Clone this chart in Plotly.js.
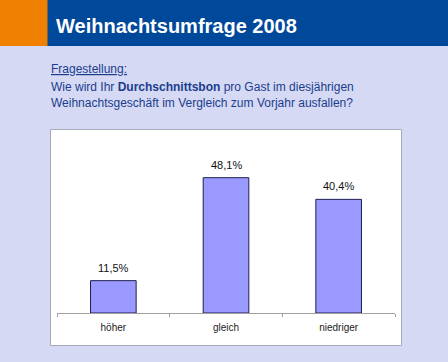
<!DOCTYPE html>
<html><head><meta charset="utf-8">
<script src="https://cdn.plot.ly/plotly-3.0.1.min.js"></script>
<style>html,body{margin:0;padding:0;background:#D5D9F3;}#chart{width:448px;height:362px;}</style>
</head><body><div id="chart"></div>
<script>
const categories = ["höher", "gleich", "niedriger"];
const values = [11.5, 48.1, 40.4];
const headerTitle = "Weihnachtsumfrage 2008";
const questionLabel = "Fragestellung:";
const questionLine1 = "Wie wird Ihr <b>Durchschnittsbon</b> pro Gast im diesjährigen";
const questionLine2 = "Weihnachtsgeschäft im Vergleich zum Vorjahr ausfallen?";

const W = 448, H = 362;
const L = 57, R = 53, T = 140, B = 49;
const pw = W - L - R, ph = H - T - B;
const px = v => (v - L) / pw;
const py = v => (H - B - v) / ph;

const font = "Arial, 'Liberation Sans', sans-serif";
const qColor = "#1B3D8E";

const trace = {
  type: "bar", x: categories, y: values,
  marker: {color: "#9999FF", line: {color: "#1F1F50", width: 1}},
  hoverinfo: "skip"
};

const annotations = categories.map((c, i) => ({
  x: c, y: values[i], xref: "x", yref: "y",
  text: values[i].toFixed(1).replace(".", ",") + "%",
  showarrow: false, yanchor: "bottom", yshift: 5,
  font: {family: font, size: 11, color: "#111"}
}));

annotations.push(
  {xref: "paper", yref: "paper", x: px(54), y: py(26), xanchor: "left", yanchor: "middle",
   text: "<b>" + headerTitle + "</b>", showarrow: false,
   font: {family: font, size: 20, color: "#FFFFFF"}},
  {xref: "paper", yref: "paper", x: px(49), y: py(69), xanchor: "left", yanchor: "middle",
   text: "<span style=\"text-decoration:underline\">" + questionLabel + "</span>", showarrow: false,
   font: {family: font, size: 12, color: qColor}},
  {xref: "paper", yref: "paper", x: px(49), y: py(86.5), xanchor: "left", yanchor: "middle",
   text: questionLine1, showarrow: false,
   font: {family: font, size: 12, color: qColor}},
  {xref: "paper", yref: "paper", x: px(49), y: py(103), xanchor: "left", yanchor: "middle",
   text: questionLine2, showarrow: false,
   font: {family: font, size: 12, color: qColor}}
);

const shapes = [
  {type: "rect", xref: "paper", yref: "paper", x0: px(0), x1: px(48), y0: py(0), y1: py(46),
   fillcolor: "#F08000", line: {width: 0}, layer: "below"},
  {type: "rect", xref: "paper", yref: "paper", x0: px(47.5), x1: px(448), y0: py(0), y1: py(46),
   fillcolor: "#00489A", line: {width: 0}, layer: "below"},
  {type: "rect", xref: "paper", yref: "paper", x0: px(50.5), x1: px(401.5), y0: py(129.5), y1: py(345.5),
   fillcolor: "#FFFFFF", line: {color: "#A8A8B8", width: 1}, layer: "below"}
];

const layout = {
  width: W, height: H,
  margin: {l: L, r: R, t: T, b: B, pad: 0},
  paper_bgcolor: "#D5D9F3", plot_bgcolor: "rgba(0,0,0,0)",
  showlegend: false, bargap: 0.595,
  xaxis: {type: "category", showline: true, linecolor: "#A0A0A0", linewidth: 1,
          ticks: "outside", tickson: "boundaries", ticklen: 3, tickcolor: "#A0A0A0",
          ticklabelstandoff: 5,
          showgrid: false, zeroline: false, fixedrange: true,
          tickfont: {family: font, size: 10, color: "#222"}},
  yaxis: {range: [0, 61.5], visible: false, showgrid: false, zeroline: false, fixedrange: true},
  shapes: shapes, annotations: annotations
};

Plotly.newPlot("chart", [trace], layout, {displayModeBar: false, staticPlot: true});
</script></body></html>
